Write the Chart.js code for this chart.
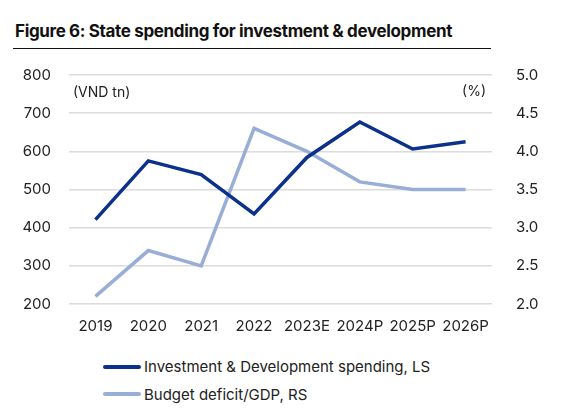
<!DOCTYPE html>
<html>
<head>
<meta charset="utf-8">
<script src="https://cdn.jsdelivr.net/npm/chart.js@4"></script>
<style>
  body { margin: 0; background: #fff; font-family: Inter, "Noto Sans", sans-serif; }
  #title { position: absolute; left: 15px; top: 21px; font-size: 17px; font-weight: 700; color: #111; letter-spacing: -0.35px; }
  #rule { position: absolute; left: 13px; top: 48px; width: 478px; height: 1px; background: #111; }
  #wrap { position: absolute; left: 0; top: 48px; width: 573px; height: 297px; }
  #legend { position: absolute; left: 103px; top: 353px; font-size: 15px; color: #222; }
  .item { display: flex; align-items: center; height: 27.5px; }
  .swatch { width: 38px; height: 4px; margin-right: 3px; border-radius: 2px; }
</style>
</head>
<body>
<div id="title">Figure 6: State spending for investment &amp; development</div>
<div id="rule"></div>
<div id="wrap"><canvas id="stateChart"></canvas></div>
<div id="legend"></div>
<script>
var years = ["2019", "2020", "2021", "2022", "2023E", "2024P", "2025P", "2026P"];
var spending = [421, 575, 539, 436, 584, 677, 606, 625];
var deficit = [2.1, 2.7, 2.5, 4.3, 4.0, 3.6, 3.5, 3.5];
var seriesNames = ["Investment & Development spending, LS", "Budget deficit/GDP, RS"];
var seriesColors = ["#0b318a", "#98aed6"];

var unitLabels = {
    id: "unitLabels",
    afterDraw: function(chart) {
        var ctx = chart.ctx;
        var area = chart.chartArea;
        ctx.save();
        ctx.font = "14px Inter, 'Noto Sans', sans-serif";
        ctx.fillStyle = "#222";
        ctx.textBaseline = "middle";
        ctx.textAlign = "left";
        ctx.fillText("(VND tn)", area.left + 4, area.top + 18);
        ctx.textAlign = "right";
        ctx.fillText("(%)", area.right - 6, area.top + 17);
        ctx.restore();
    }
};

var ctxState = document.getElementById("stateChart");
var stateChart = new Chart(ctxState, {
    type: "line",
    data: {
        labels: years,
        datasets: [
            {
                label: seriesNames[0],
                data: spending,
                borderColor: seriesColors[0],
                borderWidth: 3.5,
                pointRadius: 0,
                yAxisID: "y",
                order: 1
            },
            {
                label: seriesNames[1],
                data: deficit,
                borderColor: seriesColors[1],
                borderWidth: 3.5,
                pointRadius: 0,
                yAxisID: "y1",
                order: 2
            }
        ]
    },
    options: {
        responsive: true,
        maintainAspectRatio: false,
        animation: false,
        layout: { padding: { top: 3, bottom: 0, left: 0, right: 0 } },
        plugins: {
            legend: { display: false },
            tooltip: { enabled: false }
        },
        scales: {
            x: {
                offset: true,
                grid: { display: false },
                border: { display: false },
                ticks: {
                    color: "#222",
                    font: { size: 15, family: "Inter, 'Noto Sans', sans-serif" },
                    maxRotation: 0,
                    autoSkip: false,
                    padding: 5
                },
                afterFit: function(scale) { scale.height = 41; }
            },
            y: {
                position: "left",
                min: 200,
                max: 800,
                grid: { color: "#dcdcdc", lineWidth: 1.5, drawTicks: false },
                border: { display: false },
                ticks: {
                    stepSize: 100,
                    color: "#222",
                    font: { size: 15, family: "Inter, 'Noto Sans', sans-serif" },
                    padding: 18
                },
                afterFit: function(scale) { scale.width = 69; }
            },
            y1: {
                position: "right",
                min: 2,
                max: 5,
                grid: { display: false },
                border: { display: false },
                ticks: {
                    stepSize: 0.5,
                    color: "#222",
                    font: { size: 15, family: "Inter, 'Noto Sans', sans-serif" },
                    padding: 16,
                    callback: function(v) { return v.toFixed(1); }
                },
                afterFit: function(scale) { scale.width = 81; }
            }
        }
    },
    plugins: [unitLabels]
});

var legendBox = document.getElementById("legend");
seriesNames.forEach(function(name, i) {
    var row = document.createElement("div");
    row.className = "item";
    var sw = document.createElement("span");
    sw.className = "swatch";
    sw.style.background = seriesColors[i];
    var tx = document.createElement("span");
    tx.textContent = name;
    row.appendChild(sw);
    row.appendChild(tx);
    legendBox.appendChild(row);
});
</script>
</body>
</html>
